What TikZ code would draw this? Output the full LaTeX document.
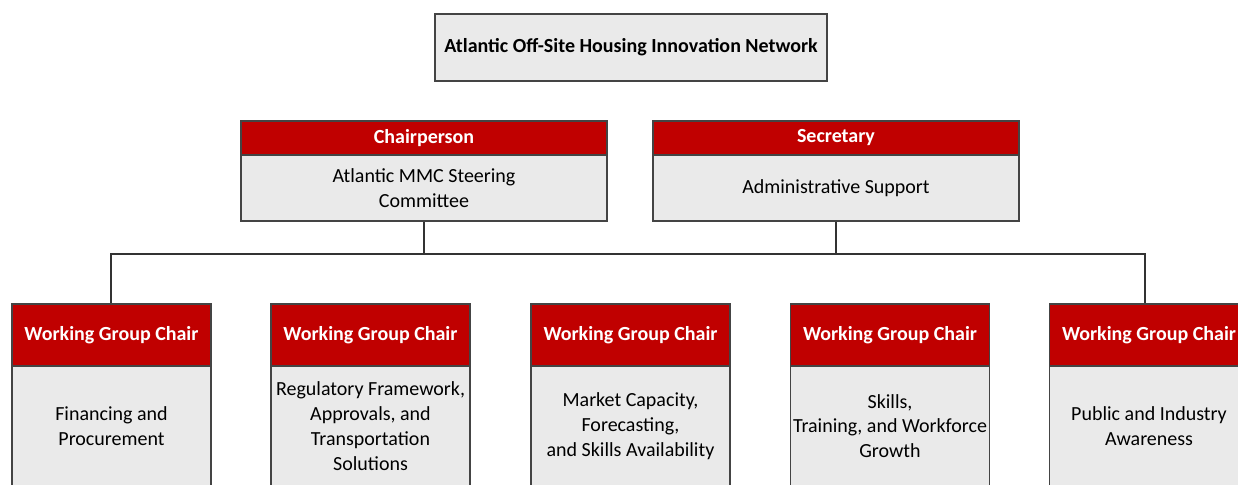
\documentclass[tikz,border=0pt]{standalone}
\usepackage{fontspec}
\setmainfont{Carlito}
\usepackage{xcolor}
\usepackage{tikz}

\definecolor{headred}{HTML}{C00000}
\definecolor{bodygray}{HTML}{EAEAEA}
\definecolor{edgegray}{HTML}{444444}
\definecolor{linegray}{HTML}{333333}

\tikzset{
  titlebox/.style={draw=edgegray, line width=1pt, fill=bodygray,
    minimum width=294pt, minimum height=50.25pt, inner sep=0pt,
    font=\fontsize{15}{18.6}\selectfont\bfseries},
  headbox/.style={draw=edgegray, line width=1pt, fill=headred,
    text=white, inner sep=0pt, align=center,
    font=\fontsize{15}{18.6}\selectfont\bfseries},
  bodybox/.style={draw=edgegray, line width=1pt, fill=bodygray,
    inner sep=0pt, align=center,
    font=\fontsize{15}{18.6}\selectfont},
  link/.style={draw=linegray, line width=1.3pt}
}

\begin{document}
\begin{tikzpicture}[x=0.75pt, y=-0.75pt]
    \useasboundingbox (0, 0) rectangle (1238, 485);
    \clip (0, 0) rectangle (1238, 485);

    % network title
    \node[titlebox] (network) at (631, 47.5)
      {Atlantic Off-Site Housing Innovation Network};

    % chairperson and secretary
    \node[headbox, minimum width=274.5pt, minimum height=25.5pt]
      (chairhead) at (424, 138) {Chairperson};
    \node[bodybox, minimum width=274.5pt, minimum height=49.5pt]
      (chairbody) at (424, 188) {Atlantic MMC Steering\\Committee};

    \node[headbox, minimum width=274.5pt, minimum height=25.5pt]
      (sechead) at (836, 138) {Secretary};
    \node[bodybox, minimum width=274.5pt, minimum height=49.5pt]
      (secbody) at (836, 188) {Administrative Support};

    % working groups
    \node[headbox, minimum width=149.25pt, minimum height=46.5pt]
      (wghead1) at (111.5, 335) {Working Group Chair};
    \node[bodybox, minimum width=149.25pt, minimum height=90pt]
      (wgbody1) at (111.5, 426) {Financing and\\Procurement};

    \node[headbox, minimum width=149.25pt, minimum height=46.5pt]
      (wghead2) at (370.5, 335) {Working Group Chair};
    \node[bodybox, minimum width=149.25pt, minimum height=90pt]
      (wgbody2) at (370.5, 426)
      {Regulatory Framework,\\Approvals, and\\Transportation\\Solutions};

    \node[headbox, minimum width=149.25pt, minimum height=46.5pt]
      (wghead3) at (630.5, 335) {Working Group Chair};
    \node[bodybox, minimum width=149.25pt, minimum height=90pt]
      (wgbody3) at (630.5, 426)
      {Market Capacity,\\Forecasting,\\and Skills Availability};

    \node[headbox, minimum width=149.25pt, minimum height=46.5pt]
      (wghead4) at (890, 335) {Working Group Chair};
    \node[bodybox, minimum width=149.25pt, minimum height=90pt]
      (wgbody4) at (890, 426) {Skills,\\Training, and Workforce\\Growth};

    \node[headbox, minimum width=149.25pt, minimum height=46.5pt]
      (wghead5) at (1149, 335) {Working Group Chair};
    \node[bodybox, minimum width=149.25pt, minimum height=90pt]
      (wgbody5) at (1149, 426) {Public and Industry\\Awareness};

    % connectors
    \coordinate (busleft) at (111, 254);
    \coordinate (busright) at (1145, 254);
    \draw[link] (chairbody.south) -- (chairbody.south |- busleft);
    \draw[link] (secbody.south) -- (secbody.south |- busleft);
    \draw[link] (busleft |- wghead1.north) -- (busleft) -- (busright)
      -- (busright |- wghead5.north);

  \end{tikzpicture}
\end{document}
